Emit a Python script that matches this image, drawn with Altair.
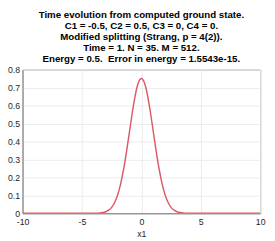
import altair as alt
import pandas as pd

x_vals = [-10, -8, -6, -5, -4.5, -4, -3.75, -3.5, -3.25, -3, -2.75, -2.5, -2.25, -2, -1.75, -1.5, -1.25, -1, -0.75, -0.5, -0.25,
          0, 0.25, 0.5, 0.75, 1, 1.25, 1.5, 1.75, 2, 2.25, 2.5, 2.75, 3, 3.25, 3.5, 3.75, 4, 4.5, 5, 6, 8, 10]
y_vals = [0, 0, 0, 0, 0.00003, 0.00025, 0.0007, 0.0016, 0.0038, 0.0083, 0.0171, 0.033, 0.0598, 0.1017, 0.1625, 0.244, 0.344, 0.4555, 0.567, 0.663, 0.728,
          0.751, 0.728, 0.663, 0.567, 0.4555, 0.344, 0.244, 0.1625, 0.1017, 0.0598, 0.033, 0.0171, 0.0083, 0.0038, 0.0016, 0.0007, 0.00025, 0.00003, 0, 0, 0, 0]

title_lines = [
    "Time evolution from computed ground state.",
    "C1 = -0.5, C2 = 0.5, C3 = 0, C4 = 0.",
    "Modified splitting (Strang, p = 4(2)).",
    "Time = 1. N = 35. M = 512.",
    "Energy = 0.5.\u00a0 Error in energy = 1.5543e-15.",
]
x_ticks = [-10, -5, 0, 5, 10]
y_ticks = [0, 0.1, 0.2, 0.3, 0.4, 0.5, 0.6, 0.7, 0.8]

df = pd.DataFrame({"x": x_vals, "y": y_vals})

chart = alt.Chart(df).mark_line(color="#dc5a64", strokeWidth=1.5, interpolate="monotone", clip=True).encode(
    x=alt.X("x:Q", title="x1", scale=alt.Scale(domain=[-10, 10], nice=False),
            axis=alt.Axis(values=x_ticks, labelExpr="'' + datum.value", labelFlush=False,
                          labelPadding=5, titlePadding=3)),
    y=alt.Y("y:Q", title=None, scale=alt.Scale(domain=[0, 0.8], nice=False),
            axis=alt.Axis(values=y_ticks, labelExpr="'' + datum.value", labelPadding=3)),
).properties(
    width=245,
    height=148,
    title=alt.TitleParams(text=title_lines, fontSize=10, fontWeight="bold", font="Liberation Sans",
                          color="#000000", lineHeight=11.4, offset=2, anchor="middle"),
    autosize=alt.AutoSizeParams(type="none"),
    padding={"left": 15, "top": 60, "right": 7, "bottom": 25},
).configure_axis(
    labelFont="Liberation Sans", labelFontSize=9, labelColor="#262626",
    titleFont="Liberation Sans", titleFontSize=9, titleColor="#262626", titleFontWeight="normal",
    domainColor="#808080", gridColor="#ebebeb", ticks=False,
).configure_view(stroke="#808080", strokeWidth=1)

chart.save("out.html", embed_options={"renderer": "svg", "actions": False})
